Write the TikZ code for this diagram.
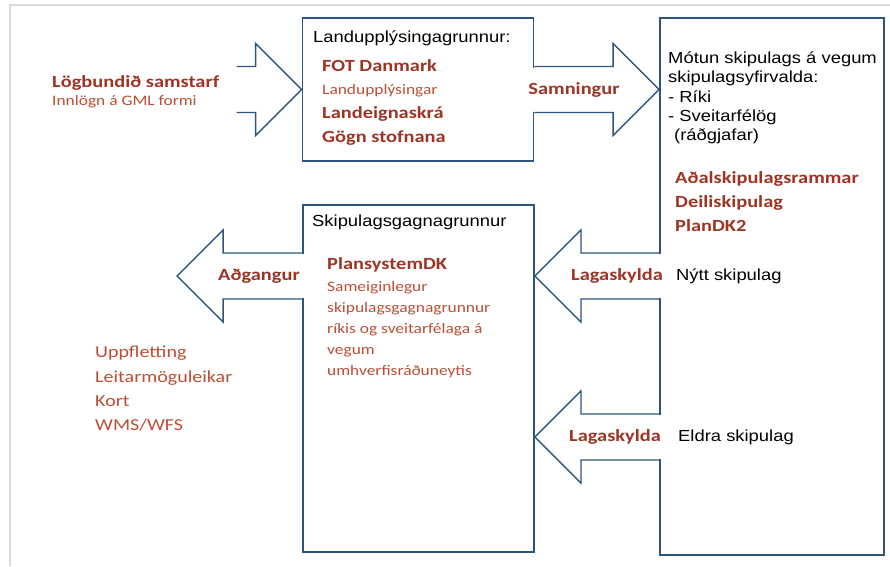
\documentclass[tikz,border=0pt]{standalone}
\usepackage{fontspec}
\setmainfont{Liberation Sans}[FakeStretch=1.15]
\newfontfamily\calib{Carlito}[FakeStretch=1.2]
\usetikzlibrary{calc}

\definecolor{boxblue}{RGB}{45,85,125}
\definecolor{darkred}{RGB}{158,52,36}
\definecolor{lightred}{RGB}{188,78,52}
\definecolor{framegrey}{RGB}{216,216,216}

% block arrow: #1 = tail point, #2 = tip point (coordinate names)
\newcommand{\bigarrow}[2]{%
  \coordinate (#2-hb) at ($(#2)!46pt!(#1)$);
  \coordinate (#2-tl) at ($(#1)!-2pt!(#2)$);
  \fill[white] ($(#2-tl)+(0,-22)$) rectangle ($(#2-hb)+(0,22)$);
  \draw[blockarrow] ($(#1)+(0,-23)$) -- ($(#2-hb)+(0,-23)$) -- ($(#2-hb)+(0,-46)$) -- (#2)
    -- ($(#2-hb)+(0,46)$) -- ($(#2-hb)+(0,23)$) -- ($(#1)+(0,23)$);
}

\begin{document}
\begin{tikzpicture}[x=1pt, y=-1pt,
    box/.style = {draw=boxblue, line width=1.9pt, inner sep=0},
    blockarrow/.style = {draw=boxblue, line width=1.4pt, line join=miter},
    blk/.style = {font=\fontsize{16}{19.3}\selectfont, text=black, inner sep=0, align=left},
    hd/.style = {font=\calib\bfseries\fontsize{17}{24}\selectfont, text=darkred, inner sep=0, align=left},
    txt/.style = {font=\calib\fontsize{14.5}{21}\selectfont, text=lightred, inner sep=0, align=left}]
  \useasboundingbox (0,0) rectangle (890,566);
  \draw[framegrey, line width=1.2pt] (890,5) -- (10,5) -- (10,566);

  % boxes
  \node[box, minimum width=231, minimum height=143] (land) at (418,89.5) {};
  \node[box, minimum width=224, minimum height=537] (motun) at (772,286.5) {};
  \node[box, minimum width=231, minimum height=347] (gagn) at (418.5,378.5) {};

  % arrows
  \coordinate (row1) at (0,276);
  \coordinate (row2) at (0,437);
  \coordinate (a1tail) at ($(land.west)+(-65,0)$);
  \coordinate (a1tip) at (land.west);
  \coordinate (a2tail) at (land.east);
  \coordinate (a2tip) at (land.east -| motun.west);
  \coordinate (a3tail) at (gagn.west |- row1);
  \coordinate (a3tip) at ($(a3tail)+(-125,0)$);
  \coordinate (a4tail) at (motun.west |- row1);
  \coordinate (a4tip) at (gagn.east |- row1);
  \coordinate (a5tail) at (motun.west |- row2);
  \coordinate (a5tip) at (gagn.east |- row2);
  \bigarrow{a1tail}{a1tip}
  \bigarrow{a2tail}{a2tip}
  \bigarrow{a3tail}{a3tip}
  \bigarrow{a4tail}{a4tip}
  \bigarrow{a5tail}{a5tip}

  % texts
  \node[hd, anchor=north west, font=\calib\bfseries\fontsize{17}{18}\selectfont] (log) at (52,75)
    {Lögbundið samstarf\\ {\mdseries\color{lightred}\fontsize{14.5}{18}\selectfont Innlögn á GML formi}};
  \node[blk, anchor=north west] (landt) at (313,30.5) {Landupplýsingagrunnur:};
  \node[hd, anchor=north west, font=\calib\bfseries\fontsize{17}{23.7}\selectfont] (landl) at (322,59)
    {FOT Danmark\\ {\mdseries\color{lightred}\fontsize{14.5}{23.7}\selectfont Landupplýsingar}\\ Landeignaskrá\\ Gögn stofnana};
  \node[hd] (samn) at (574,89.5) {Samningur};
  \node[blk, anchor=north west] (mot) at (668,51.5)
    {Mótun skipulags á vegum\\ skipulagsyfirvalda:\\ - Ríki\\ - Sveitarfélög\\ \hspace*{6pt}(ráðgjafar)};
  \node[hd, anchor=north west] (motl) at (675,171) {Aðalskipulagsrammar\\ Deiliskipulag\\ PlanDK2};
  \node[blk, anchor=west] (nytt) at (676,276) {Nýtt skipulag};
  \node[blk, anchor=west] (eldra) at (678,437) {Eldra skipulag};
  \node[hd] (lag1) at (617,276) {Lagaskylda};
  \node[hd] (lag2) at (615,437) {Lagaskylda};
  \node[hd] (adg) at (259,276) {Aðgangur};
  \node[blk, anchor=north west] (gagnt) at (312,214.5) {Skipulagsgagnagrunnur};
  \node[hd, anchor=north west] (plans) at (327,257) {PlansystemDK};
  \node[txt, anchor=north west] (plant) at (327,281)
    {Sameiginlegur\\ skipulagsgagnagrunnur\\ ríkis og sveitarfélaga á\\ vegum\\ umhverfisráðuneytis};
  \node[txt, anchor=north west, font=\calib\fontsize{16.7}{24.3}\selectfont] (upp) at (95,346)
    {Uppfletting\\ Leitarmöguleikar\\ Kort\\ WMS/WFS};
\end{tikzpicture}
\end{document}
